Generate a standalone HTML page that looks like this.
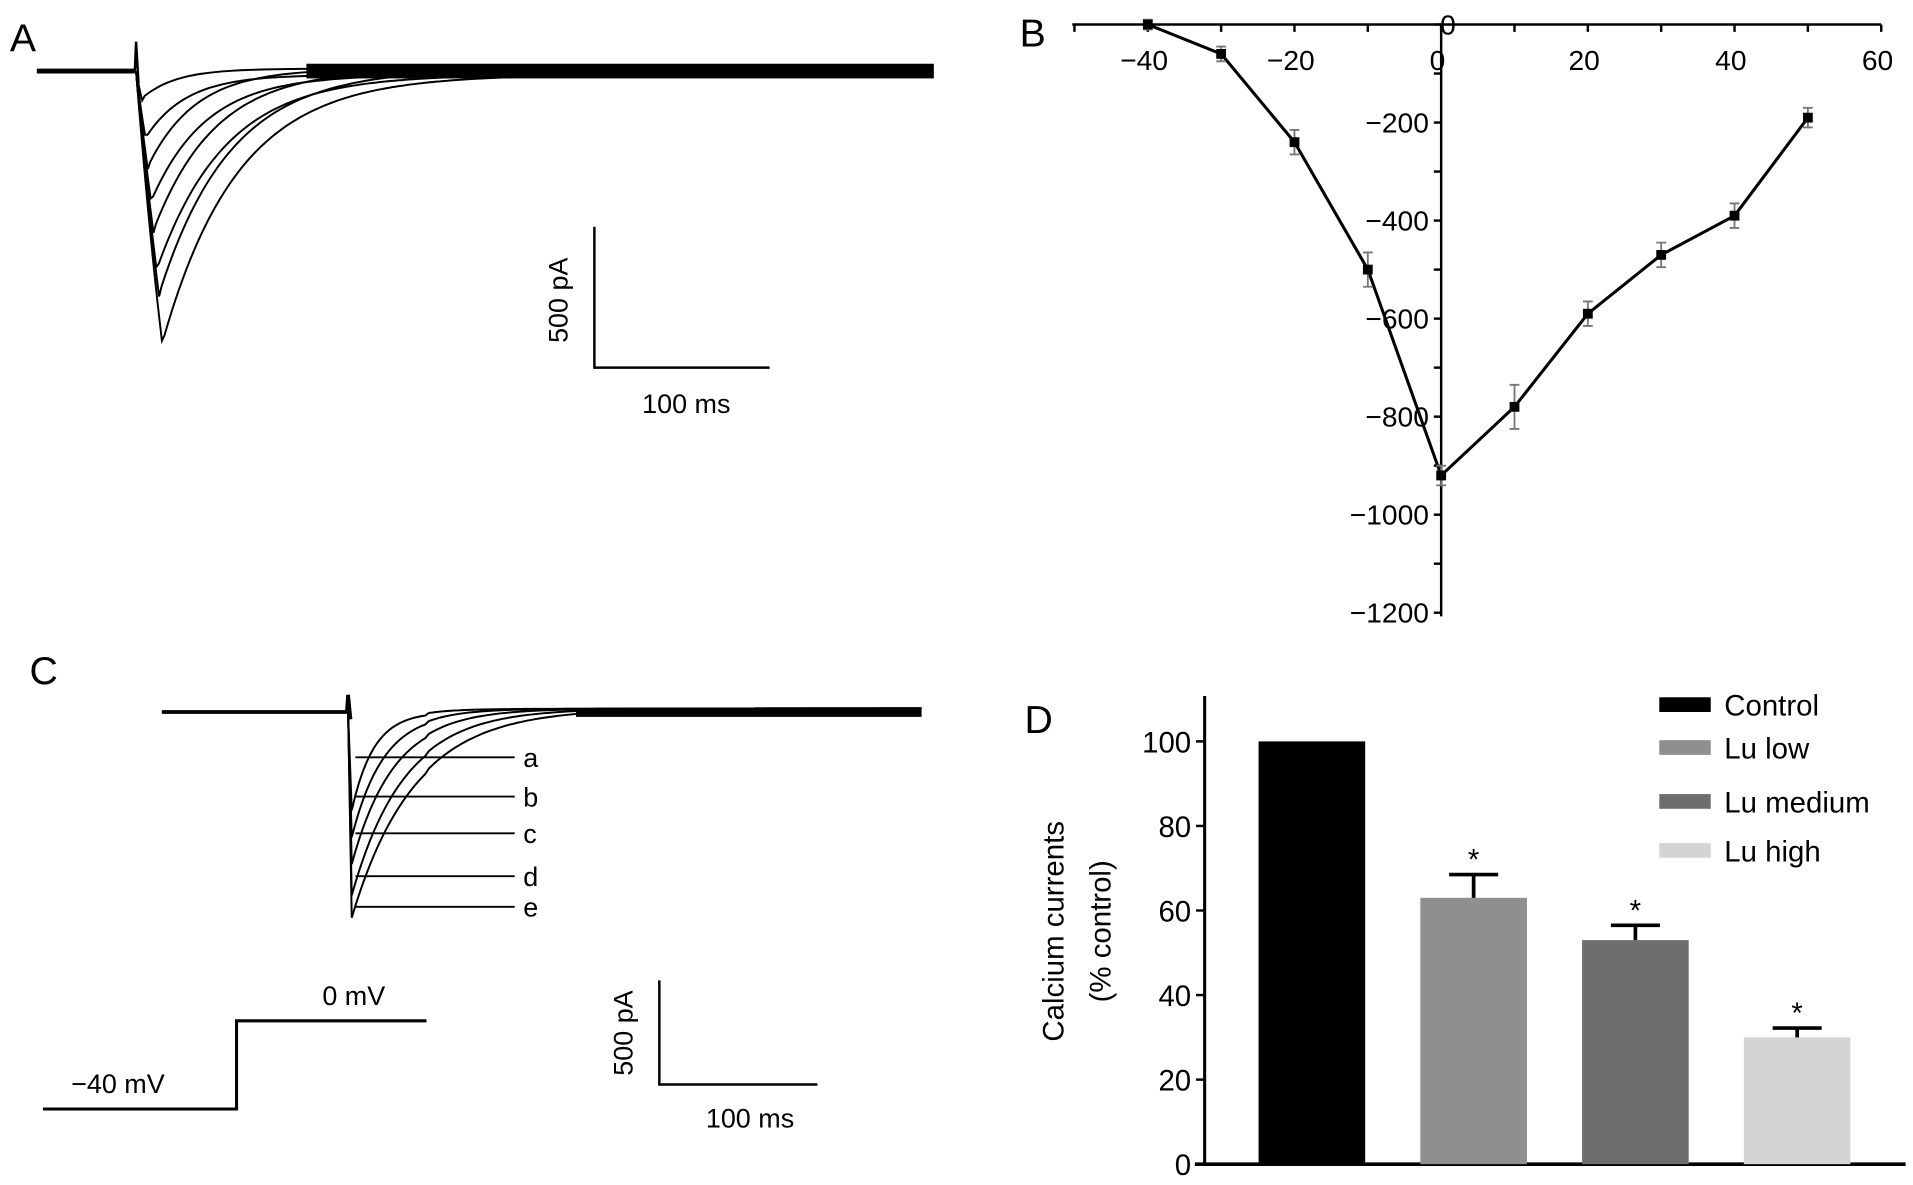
<!DOCTYPE html>
<html><head><meta charset="utf-8"><style>
html,body{margin:0;padding:0;background:#fff;}
svg{display:block;font-family:"Liberation Sans",Arial,sans-serif;}
</style></head><body>
<svg id="fig" width="1913" height="1185" viewBox="0 0 1561 967" xmlns="http://www.w3.org/2000/svg">
<rect width="1561" height="967" fill="#fff"/>
<g id="panelA"></g>
<g id="panelB"></g>
<g id="panelC"></g>
<g id="panelD"></g>
</svg>
<script>
// Panel B data
const ivVoltages = [-40,-30,-20,-10,0,10,20,30,40,50];
const ivCurrents = [0,-60,-240,-500,-920,-780,-590,-470,-390,-190];
const ivErrors = [10,15,25,35,20,45,25,25,25,20];
const ivXTicks = [-40,-20,0,20,40,60];
const ivYTicks = [0,-200,-400,-600,-800,-1000,-1200];
// Panel D data
const barCategories = ["Control","Lu low","Lu medium","Lu high"];
const barValues = [100,63,53,30];
const barErrors = [0,5.5,3.5,2.2];
const barSig = [false,true,true,true];
const barYTicks = [0,20,40,60,80,100];
// Panel A traces: peak depths and decay constants
const traceAPeaks = [60,130,200,260,330,400,460,550];
const traceATau = [25,30,35,40,45,50,52,55];
// Panel C traces: a..e peak depths
const traceCLabels = ["a","b","c","d","e"];
const traceCPeaks = [110,140,170,205,230];

const NS="http://www.w3.org/2000/svg";
function mk(tag,attrs,parent,txt){const e=document.createElementNS(NS,tag);for(const k in attrs)e.setAttribute(k,attrs[k]);if(txt!==undefined)e.textContent=txt;parent.appendChild(e);return e;}

// ---------- Panel A ----------
(function(){
const g=document.getElementById('panelA');
const t=mk('text',{x:8,y:42,'font-size':32},g,'A');


const base=58, x0=111;
const yA=v=>base+v*0.4;
const band=mk('path',{d:`M30 ${base} L110 ${base}`,stroke:'#000','stroke-width':4,fill:'none'},g);


const spike=mk('path',{d:`M110 ${base} L111 34 L113 ${base+10}`,stroke:'#000','stroke-width':2,fill:'none'},g);


traceAPeaks.forEach((p,i)=>{
  const tp=x0+5+i*2.3;
  let d=`M${x0} ${base} Q${(x0+tp)/2} ${yA(p*0.6).toFixed(1)} ${tp.toFixed(1)} ${yA(p).toFixed(1)}`;
  for(let x=tp+2;x<=762;x+=3){const v=p*Math.exp(-(x-tp)/traceATau[i]*0.9);d+=` L${x.toFixed(1)} ${(yA(v)+ (i%2?3:-2)).toFixed(1)}`;}
  const pth=mk('path',{d,stroke:'#000','stroke-width':1.6,fill:'none'},g);
  
  
});
const tail=mk('rect',{x:250,y:52,width:512,height:12,fill:'#000'},g);


const sb=mk('path',{d:'M485 185 L485 300 L628 300',stroke:'#000','stroke-width':2,fill:'none'},g);


const s1=mk('text',{x:0,y:0,'font-size':22,transform:'translate(463,245) rotate(-90)','text-anchor':'middle'},g,'500 pA');


const s2=mk('text',{x:560,y:337,'font-size':22,'text-anchor':'middle'},g,'100 ms');


})();

// ---------- Panel B ----------
(function(){
const g=document.getElementById('panelB');
const xs=v=>1176+v*5.985, ys=v=>20-v*0.4;
const t=mk('text',{x:832,y:38,'font-size':32},g,'B');


const xa=mk('line',{x1:875,y1:20,x2:1535,y2:20,stroke:'#000','stroke-width':2},g);


const ya=mk('line',{x1:1176,y1:20,x2:1176,y2:503,stroke:'#000','stroke-width':2},g);


for(let v=-50;v<=60;v+=10){mk('line',{x1:xs(v),y1:20,x2:xs(v),y2:26,stroke:'#000','stroke-width':2},g);}
ivXTicks.forEach(v=>{const l=mk('text',{x:xs(v)-3,y:57,'font-size':23,'text-anchor':'middle'},g,v<0?'\u2212'+(-v):String(v));

});
for(let v=0;v>=-1200;v-=100){mk('line',{x1:1170,y1:ys(v),x2:1176,y2:ys(v),stroke:'#000','stroke-width':2},g);}
ivYTicks.forEach(v=>{const l=mk('text',{x:v===0?1188:1166,y:ys(v)+8,'font-size':23,'text-anchor':'end'},g,v<0?'\u2212'+(-v):'0');

});
let d='';ivVoltages.forEach((v,i)=>{d+=(i?' L':'M')+xs(v).toFixed(1)+' '+ys(ivCurrents[i]).toFixed(1);});
const ln=mk('path',{d,stroke:'#000','stroke-width':2.5,fill:'none'},g);


ivVoltages.forEach((v,i)=>{
  const x=xs(v),y=ys(ivCurrents[i]),e=ivErrors[i]*0.4;
  const eb=mk('path',{d:`M${x} ${y-e} L${x} ${y+e} M${x-4} ${y-e} L${x+4} ${y-e} M${x-4} ${y+e} L${x+4} ${y+e}`,stroke:'#777','stroke-width':1.5,fill:'none'},g);
  
  
  const m=mk('rect',{x:x-4,y:y-4,width:8,height:8,fill:'#000'},g);
  
  
});
})();

// ---------- Panel C ----------
(function(){
const g=document.getElementById('panelC');
const t=mk('text',{x:24,y:558,'font-size':32},g,'C');


const base=581,x0=284,yC=v=>base+v*0.73;
const bl=mk('path',{d:`M132 ${base} L283 ${base} L284 567 L286 ${base+6}`,stroke:'#000','stroke-width':3,fill:'none'},g);


traceCPeaks.forEach((p,i)=>{
  const tp=x0+3;let d=`M${x0} ${base} L${tp} ${yC(p).toFixed(1)}`;
  const tau=[18,26,34,42,50][i];
  for(let x=tp;x<=752;x+=3){const v=p*Math.exp(-(x-tp)/tau);d+=` L${x} ${(yC(v)-(x>tp+60?3*(1-Math.exp(-(x-tp)/80)):0)).toFixed(1)}`;}
  const pth=mk('path',{d,stroke:'#000','stroke-width':1.6,fill:'none'},g);
  
  
  const ly=[618,650,680,715,740][i];
  const ll=mk('line',{x1:290,y1:ly,x2:420,y2:ly,stroke:'#000','stroke-width':1.5},g);
  
  
  const lt=mk('text',{x:427,y:ly+8,'font-size':22},g,traceCLabels[i]);
  
  
});
const band=mk('rect',{x:470,y:578,width:282,height:7,fill:'#000'},g);


const vp=mk('path',{d:'M35 905 L193 905 L193 833 L348 833',stroke:'#000','stroke-width':2.5,fill:'none'},g);


const v1=mk('text',{x:58,y:892,'font-size':22},g,'\u221240 mV');


const v2=mk('text',{x:263,y:820,'font-size':22},g,'0 mV');


const sb=mk('path',{d:'M538 800 L538 885 L667 885',stroke:'#000','stroke-width':2,fill:'none'},g);


const s1=mk('text',{x:0,y:0,'font-size':22,transform:'translate(516,843) rotate(-90)','text-anchor':'middle'},g,'500 pA');


const s2=mk('text',{x:612,y:920,'font-size':22,'text-anchor':'middle'},g,'100 ms');


})();

// ---------- Panel D ----------
(function(){
const g=document.getElementById('panelD');
const ys=v=>950-v*3.45;
const colors=['#000','#8f8f8f','#6e6e6e','#d4d4d4'];
const t=mk('text',{x:836,y:598,'font-size':32},g,'D');


const ya=mk('line',{x1:983,y1:568,x2:983,y2:951,stroke:'#000','stroke-width':2.5},g);


const xa=mk('line',{x1:975,y1:950,x2:1555,y2:950,stroke:'#000','stroke-width':3},g);


barYTicks.forEach(v=>{mk('line',{x1:976,y1:ys(v),x2:983,y2:ys(v),stroke:'#000','stroke-width':2},g);
const l=mk('text',{x:972,y:ys(v)+9,'font-size':24,'text-anchor':'end'},g,String(v));

});
const yt=mk('text',{x:0,y:0,'font-size':24,'text-anchor':'middle',transform:'translate(868,760) rotate(-90)'},g,'Calcium currents');


const yt2=mk('text',{x:0,y:0,'font-size':24,'text-anchor':'middle',transform:'translate(906,760) rotate(-90)'},g,'(% control)');


barCategories.forEach((c,i)=>{
  const x=1027+i*132,w=87;
  const b=mk('rect',{x,y:ys(barValues[i]),width:w,height:ys(0)-ys(barValues[i]),fill:colors[i]},g);
  
  
  if(barErrors[i]>0){
    const top=ys(barValues[i]+barErrors[i]),cx=x+w/2;
    const e=mk('path',{d:`M${cx} ${ys(barValues[i])} L${cx} ${top} M${cx-20} ${top} L${cx+20} ${top}`,stroke:'#000','stroke-width':3,fill:'none'},g);
    
    
  }
  if(barSig[i]){
    const s=mk('text',{x:x+w/2,y:ys(barValues[i]+barErrors[i])-4,'font-size':24,'text-anchor':'middle'},g,'*');
    
    
  }
  const ly=[575,610,654,694][i];
  const sw=mk('rect',{x:1354,y:ly-6,width:42,height:12,fill:colors[i]},g);
  
  
  const lt=mk('text',{x:1407,y:ly+9,'font-size':24},g,c);
  
  
});
})();
</script>
</body></html>
